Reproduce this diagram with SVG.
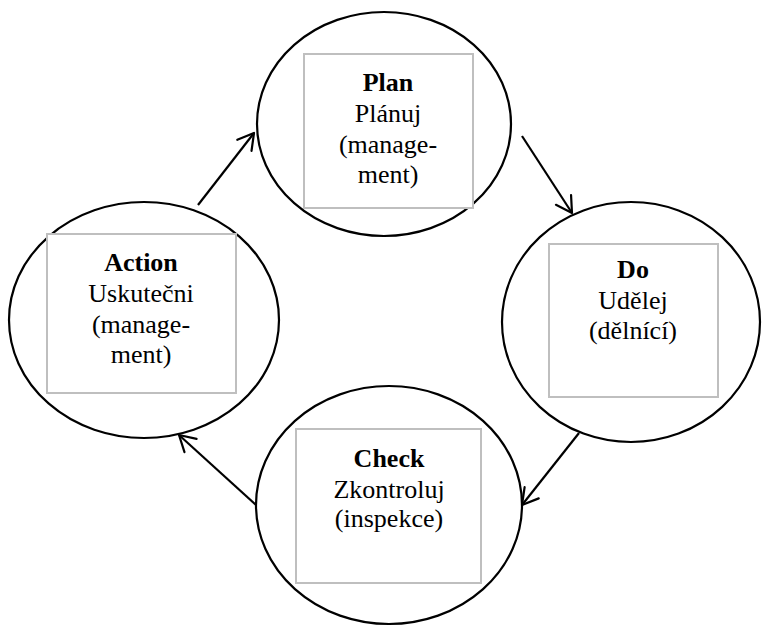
<svg xmlns="http://www.w3.org/2000/svg" width="762" height="626" viewBox="0 0 762 626">
<style>
.c{fill:none;stroke:#000;stroke-width:2.2}
.b{fill:#fff;stroke:#bfbfbf;stroke-width:2}
.t{font-family:"Liberation Serif","Times New Roman",serif;font-size:26px;fill:#000;text-anchor:middle}
.h{font-weight:bold}
.e{fill:none;stroke:#000;stroke-width:2.2}
</style>
<defs>
<marker id="arr" markerUnits="userSpaceOnUse" viewBox="-18 -11 20 22" refX="0" refY="0" markerWidth="20" markerHeight="22" orient="auto">
<path d="M-15.6,-9 L0,0 L-15.6,9" fill="none" stroke="#000" stroke-width="2.2" stroke-linecap="round" stroke-linejoin="round"/>
</marker>
</defs>
<rect width="762" height="626" fill="#fff"/>
<g id="plan">
<ellipse class="c" cx="384" cy="124" rx="127" ry="112"/>
<rect class="b" x="304" y="54" width="169" height="154"/>
<text class="t h" x="388" y="91">Plan</text>
<text class="t" x="388" y="122">Plánuj</text>
<text class="t" x="388" y="153">(manage-</text>
<text class="t" x="388" y="183">ment)</text>
</g>
<g id="do">
<ellipse class="c" cx="631" cy="322" rx="129" ry="120"/>
<rect class="b" x="549" y="244" width="169" height="153"/>
<text class="t h" x="633" y="278">Do</text>
<text class="t" x="633" y="309">Udělej</text>
<text class="t" x="633" y="339">(dělnící)</text>
</g>
<g id="check">
<ellipse class="c" cx="389" cy="505" rx="133" ry="119"/>
<rect class="b" x="296" y="429" width="185" height="154"/>
<text class="t h" x="389" y="467">Check</text>
<text class="t" x="389" y="498">Zkontroluj</text>
<text class="t" x="389" y="527">(inspekce)</text>
</g>
<g id="action">
<ellipse class="c" cx="144" cy="320" rx="135" ry="118"/>
<rect class="b" x="47" y="234" width="189" height="159"/>
<text class="t h" x="141" y="271">Action</text>
<text class="t" x="141" y="302">Uskutečni</text>
<text class="t" x="141" y="333">(manage-</text>
<text class="t" x="141" y="363">ment)</text>
</g>
<g id="connectors">
<line class="e" x1="198" y1="205" x2="254" y2="133" marker-end="url(#arr)"/>
<line class="e" x1="522" y1="136" x2="572" y2="213" marker-end="url(#arr)"/>
<line class="e" x1="579" y1="433" x2="522" y2="505" marker-end="url(#arr)"/>
<line class="e" x1="256" y1="505" x2="179" y2="435" marker-end="url(#arr)"/>
</g>
</svg>
